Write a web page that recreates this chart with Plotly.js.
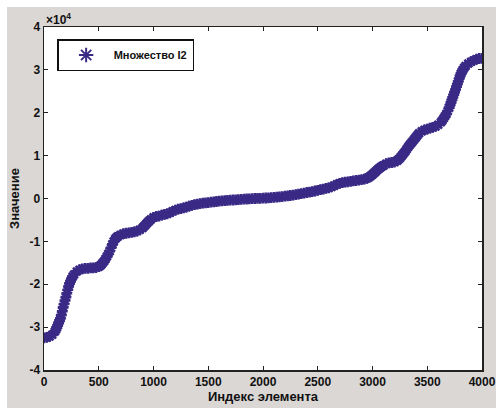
<!DOCTYPE html>
<html>
<head>
<meta charset="utf-8">
<script src="https://cdn.plot.ly/plotly-3.0.1.min.js"></script>
<style>
html,body{margin:0;padding:0;background:#ffffff;}
#chart{position:absolute;left:7px;top:7px;width:489px;height:401px;}
</style>
</head>
<body>
<div id="chart"></div>
<script>
var indices = [
0,25,50,75,100,108,117,125,133,142,150,158,167,175,183,192,200,208,217,225,233,242,250,262,275,
300,325,350,375,400,425,450,475,
500,512,525,537,550,562,575,587,600,612,625,637,650,662,675,
700,725,750,775,800,825,850,875,
900,912,925,937,950,962,975,
1000,1025,1050,1075,1100,1125,1150,1175,1200,1225,1250,1275,1300,1325,1350,1375,1400,1425,1450,1475,
1500,1525,1550,1575,1600,1625,1650,1675,1700,1725,1750,1775,1800,1825,1850,1875,1900,1925,1950,1975,
2000,2025,2050,2075,2100,2125,2150,2175,2200,2225,2250,2275,2300,2325,2350,2375,2400,2425,2450,2475,
2500,2525,2550,2575,2600,2625,2650,2675,2700,2725,2750,2775,2800,2825,2850,2875,2900,2925,
2950,2962,2975,2987,3000,3012,3025,3037,3050,3062,3075,3087,3100,
3125,3150,3175,3200,
3225,3237,3250,3262,3275,3287,3300,3312,3325,3337,3350,3362,3375,3387,3400,3412,3425,
3450,3475,3500,3525,3550,3575,3600,
3625,3637,3650,3662,3675,3687,3700,3708,3717,3725,3733,3742,3750,3758,3767,3775,3783,3792,3800,3808,3817,3825,3837,3850,
3875,3900,3925,3950,3975,4000];

var values = [
-32500,-32400,-32200,-31800,-31000,-30600,-30100,-29600,-29000,-28500,-28000,-27200,-26300,-25400,-24600,-23800,-23000,-22100,-21300,-20500,-19800,-19300,-18800,-18200,-17700,
-17000,-16600,-16400,-16300,-16300,-16200,-16200,-16100,
-15900,-15700,-15400,-15000,-14600,-14100,-13500,-12900,-12300,-11500,-10700,-10000,-9400,-9100,-8800,
-8500,-8200,-8100,-8000,-7900,-7800,-7600,-7300,
-6900,-6550,-6200,-5850,-5500,-5200,-4900,
-4400,-4200,-4100,-3900,-3700,-3600,-3300,-3000,-2700,-2500,-2350,-2200,-2000,-1800,-1600,-1450,-1300,-1200,-1100,-1000,
-950,-850,-780,-700,-620,-560,-500,-450,-400,-350,-300,-240,-200,-160,-120,-80,-40,0,20,50,
80,120,160,200,250,300,380,450,550,630,700,800,900,1000,1150,1250,1400,1500,1600,1750,
1900,2050,2200,2350,2500,2700,3000,3300,3550,3700,3800,3900,4000,4100,4200,4300,4400,4500,
4700,4900,5100,5350,5600,5900,6200,6500,6800,7050,7300,7500,7700,
8100,8300,8400,8500,
8800,9100,9400,9800,10200,10600,11000,11500,12000,12400,12800,13200,13600,14000,14400,14800,15200,
15700,16000,16200,16400,16600,16800,17200,
17800,18200,18700,19200,19700,20400,21200,21800,22400,23000,23600,24200,24800,25400,26100,26700,27300,28000,28600,29100,29600,30000,30500,30900,
31500,31900,32200,32500,32650,32700];

var yTickVals = [-40000,-30000,-20000,-10000,0,10000,20000,30000,40000];
var yTickText = ['-4','-3','-2','-1','0','1','2','3','4'];
var xTickVals = [0,500,1000,1500,2000,2500,3000,3500,4000];
var seriesName = 'Множество I2';

var fontFam = 'Liberation Sans, Arial, sans-serif';

var trace = {
  x: indices, y: values, type: 'scatter', mode: 'markers', name: seriesName,
  marker: {symbol: 'asterisk-open', size: 9, color: '#3a2a86', line: {color: '#3a2a86', width: 2.6}},
  showlegend: true
};

var layout = {
  width: 489, height: 401,
  margin: {l: 37, r: 14, t: 20, b: 38, pad: 0},
  paper_bgcolor: '#dad7d4',
  plot_bgcolor: '#ffffff',
  font: {family: fontFam, size: 12, color: '#111'},
  xaxis: {
    range: [0, 4000], tickvals: xTickVals, ticks: 'inside', ticklen: 4, tickcolor: '#222',
    showline: true, linecolor: '#222', linewidth: 1.5, mirror: 'ticks', showgrid: false, zeroline: false,
    tickfont: {family: fontFam, size: 12, weight: 'bold', color: '#111'},
    title: {text: '<b>Индекс элемента</b>', font: {family: fontFam, size: 13, color: '#111'}, standoff: 4}
  },
  yaxis: {
    range: [-40000, 40000], tickvals: yTickVals, ticktext: yTickText, ticks: 'inside', ticklen: 4, tickcolor: '#222',
    showline: true, linecolor: '#222', linewidth: 1.5, mirror: 'ticks', showgrid: false, zeroline: false,
    tickfont: {family: fontFam, size: 12, weight: 'bold', color: '#111'},
    title: {text: '<b>Значение</b>', font: {family: fontFam, size: 13, color: '#111'}, standoff: 8}
  },
  legend: {
    x: 0.03, y: 0.965, xanchor: 'left', yanchor: 'top',
    bgcolor: '#ffffff', bordercolor: '#111', borderwidth: 1.5,
    font: {family: fontFam, size: 11, color: '#111', weight: 'bold'},
    itemwidth: 45, itemsizing: 'constant'
  },
  annotations: [{
    xref: 'paper', yref: 'paper', x: 0, y: 1, xanchor: 'left', yanchor: 'bottom', yshift: -2,
    text: '×10<sup>4</sup>', showarrow: false, font: {family: fontFam, size: 12, color: '#111', weight: 'bold'}
  }]
};

Plotly.newPlot('chart', [trace], layout, {displayModeBar: false, staticPlot: true});
</script>
</body>
</html>
